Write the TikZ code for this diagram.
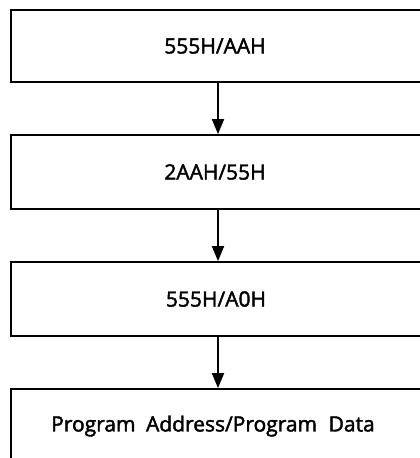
\documentclass[tikz,border=0pt]{standalone}
\usepackage{fontspec}
\setmainfont{Open Sans}
\newfontfamily\boxfont{Open Sans}[FakeBold=2]
\usetikzlibrary{arrows.meta}
\begin{document}
\begin{tikzpicture}[x=1pt,y=-1pt,
  stepbox/.style={draw=black,line width=1.8pt,minimum width=414pt,inner sep=0pt,
    font=\boxfont\fontsize{21}{25}\selectfont,text=black},
  flow/.style={draw=black,line width=1.8pt,-{Triangle[length=15pt,width=12pt]}}]
\useasboundingbox (0,0) rectangle (420,458);
\clip (0,0) rectangle (420,458);
\node[stepbox,minimum height=72pt] (b1) at (218,46) {\hspace*{-6pt}555H/AAH};
\node[stepbox,minimum height=74pt] (b2) at (218,172) {\hspace*{-6pt}2AAH/55H};
\node[stepbox,minimum height=74pt] (b3) at (218,299) {\hspace*{-4pt}555H/A0H};
\node[stepbox,minimum height=74pt] (b4) at (218,426) {\raisebox{3pt}{\hspace*{-10pt}Program\hspace{0.5em}Address/Program\hspace{0.55em}Data}};
\draw[flow] (b1.south) -- (b2.north);
\draw[flow] (b2.south) -- (b3.north);
\draw[flow] (b3.south) -- (b4.north);
\end{tikzpicture}
\end{document}
